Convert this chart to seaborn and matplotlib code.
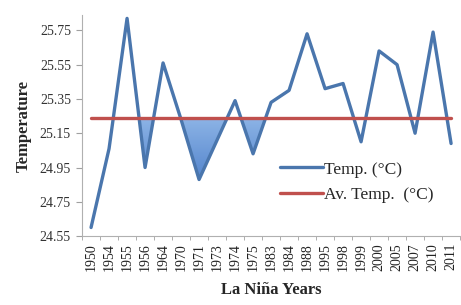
import numpy as np
import pandas as pd
import seaborn as sns
import matplotlib
matplotlib.use("Agg")
from matplotlib import pyplot as plt
from matplotlib.path import Path
from matplotlib.colors import LinearSegmentedColormap

# La Nina years and mean temperature (deg C)
years = ["1950", "1954", "1955", "1956", "1964", "1970", "1971", "1973", "1974", "1975", "1983",
         "1984", "1988", "1995", "1998", "1999", "2000", "2005", "2007", "2010", "2011"]
temp = [24.60, 25.06, 25.82, 24.95, 25.56, 25.23, 24.88, 25.11, 25.34, 25.03, 25.33,
        25.40, 25.73, 25.41, 25.44, 25.10, 25.63, 25.55, 25.15, 25.74, 25.09]
avg_temp = 25.24
yticks = [24.55, 24.75, 24.95, 25.15, 25.35, 25.55, 25.75]
# dips that are shaded in the original (1956, 1971-1973, 1975)
shaded_years = ["1956", "1970", "1971", "1973", "1975"]

sns.set_style("white")
plt.rcParams["font.family"] = ["Liberation Serif", "DejaVu Serif"]

df = pd.DataFrame({"pos": np.arange(len(years)), "year": years, "temp": temp})
df["avg"] = avg_temp

fig = plt.figure(figsize=(4.61, 3.05), dpi=100)
ax = fig.add_axes([0.178, 0.226, 0.82, 0.725])

# shaded dips below the average, blue gradient clipped to the fill area
x = df["pos"].to_numpy(dtype=float)
y = df["temp"].to_numpy()
mask = df["year"].isin(shaded_years).to_numpy() & (y < avg_temp)
polys = ax.fill_between(x, y, avg_temp, where=mask, interpolate=True, color="none", lw=0)
clip = Path.make_compound_path(*polys.get_paths())
cmap = LinearSegmentedColormap.from_list("dip", ["#2f5d9e", "#5b8bd0", "#8db4e6"])
grad = np.linspace(0, 1, 256).reshape(-1, 1)
im = ax.imshow(grad, cmap=cmap, origin="lower", aspect="auto",
               extent=[-0.5, len(years) - 0.5, min(temp), avg_temp], zorder=1)
im.set_clip_path(clip, transform=ax.transData)

sns.lineplot(data=df, x="pos", y="temp", ax=ax, color="#4a76ad", lw=2.4,
             label="Temp. (\u00b0C)", zorder=3)
sns.lineplot(data=df, x="pos", y="avg", ax=ax, color="#c0504d", lw=2.4,
             label="Av. Temp.  (\u00b0C)", zorder=4)

ax.set_xlim(-0.5, len(years) - 0.5)
ax.set_ylim(24.55, 25.84)
ax.set_yticks(yticks)
ax.set_yticklabels([f"{t:.2f}" for t in yticks])
ax.set_xticks(range(len(years)))
ax.set_xticklabels(years, rotation=90)
ax.set_xticks(np.arange(-0.5, len(years)), minor=True)
ax.tick_params(axis="x", which="major", length=0, labelsize=10, pad=5, colors="#222222")
ax.tick_params(axis="x", which="minor", length=3, color="#a0a0a0", bottom=True)
ax.tick_params(axis="y", length=4, left=True, color="#a0a0a0", labelsize=10,
               labelcolor="#333333", pad=4)

for side in ["top", "right"]:
    ax.spines[side].set_visible(False)
for side in ["left", "bottom"]:
    ax.spines[side].set_color("#b0b0b0")
    ax.spines[side].set_linewidth(0.8)

ax.set_ylabel("Temperature", fontsize=12, fontweight="bold", labelpad=6)
ax.set_xlabel("La Ni\u00f1a Years", fontsize=12, fontweight="bold", labelpad=8)

leg = ax.legend(loc="lower left", bbox_to_anchor=(0.505, 0.117), frameon=False,
                fontsize=12.5, handlelength=2.5, handletextpad=0.02, labelspacing=0.55,
                borderaxespad=0)

fig.savefig("out.png", dpi=100)
